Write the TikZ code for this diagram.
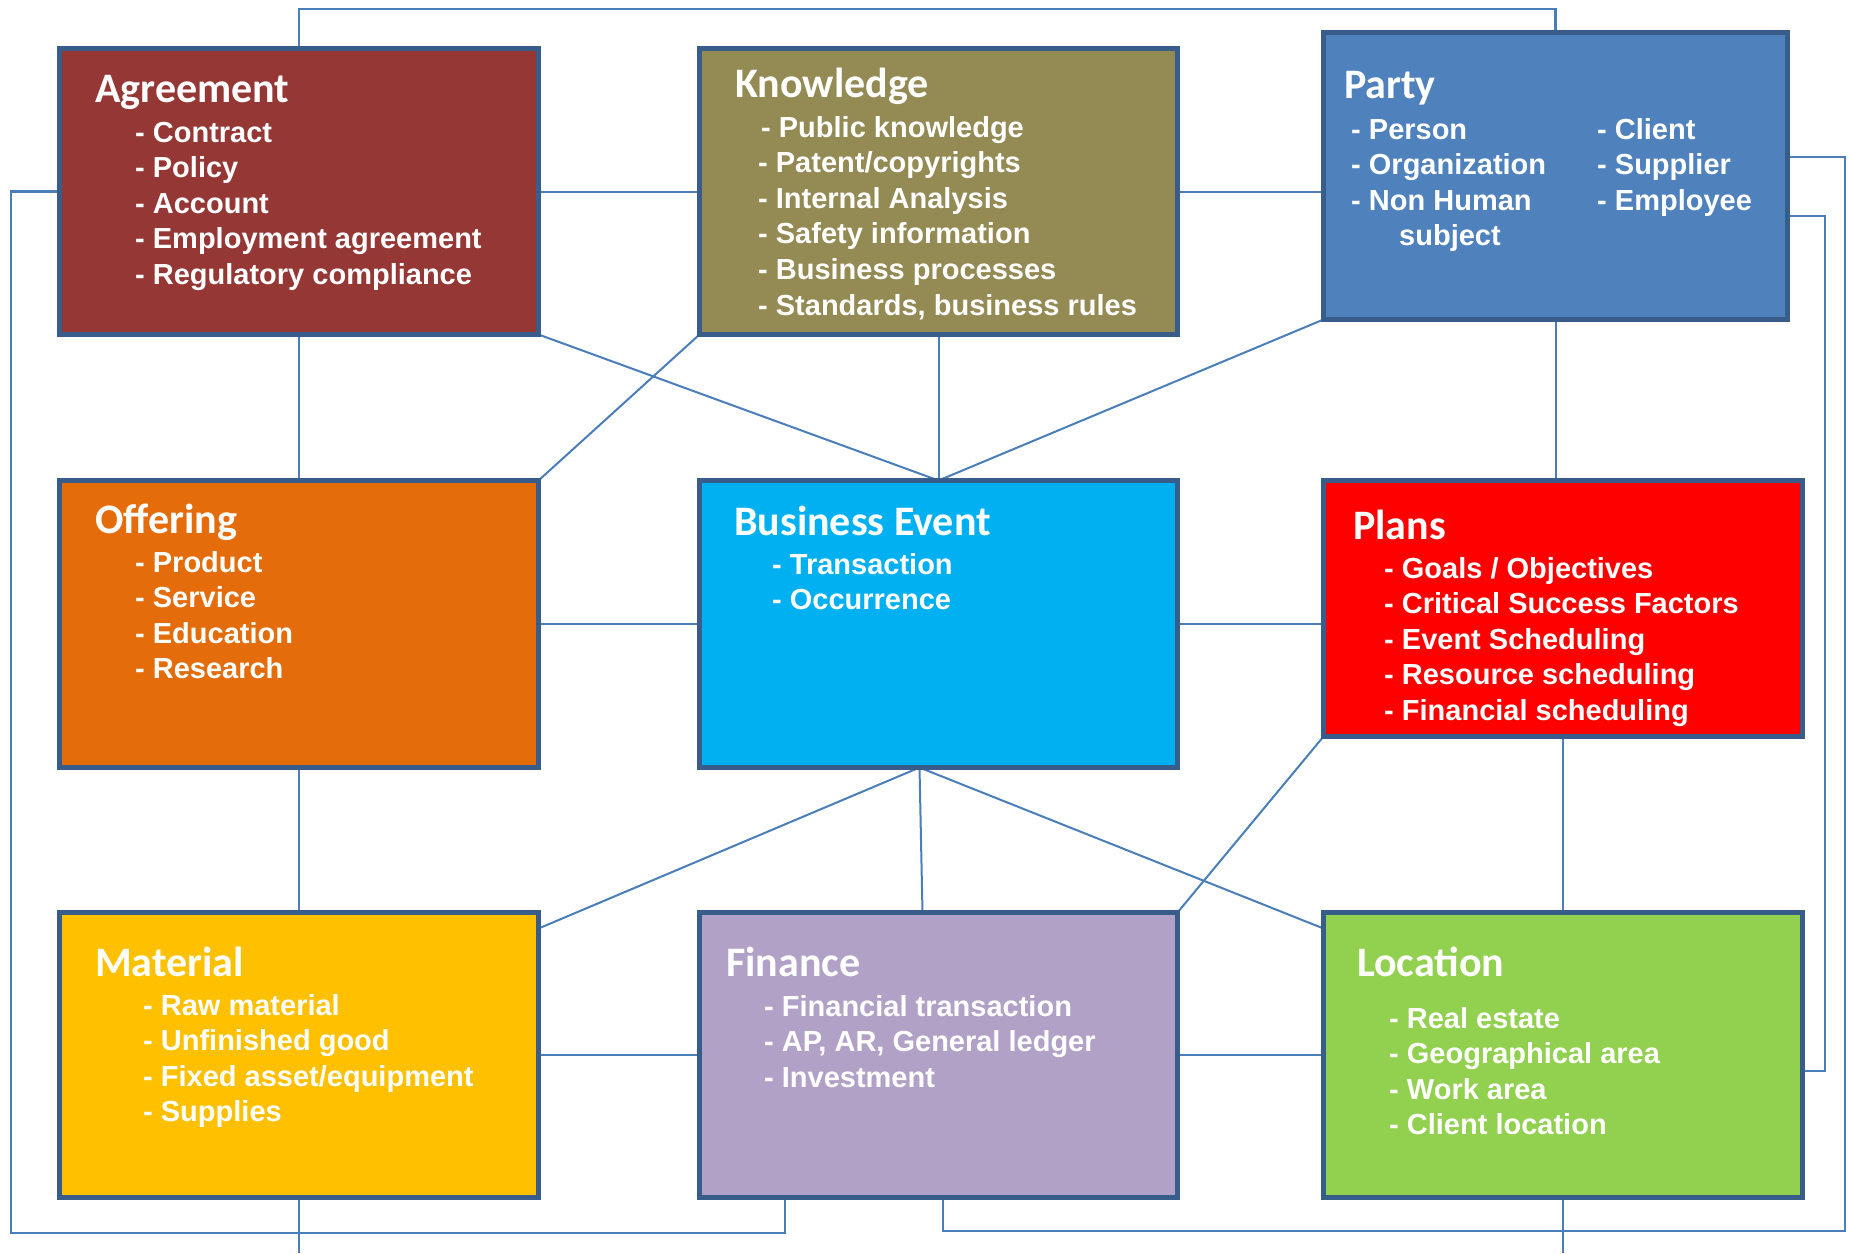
\documentclass[tikz,border=0pt]{standalone}
\usepackage{fontspec}
\newfontfamily\titlefont{Carlito}
\newfontfamily\itemfont{Liberation Sans}
\usetikzlibrary{calc}
\pgfdeclarelayer{bg}
\pgfsetlayers{bg,main}
\definecolor{bordc}{HTML}{385D8A}
\definecolor{connc}{HTML}{4A7EBB}
\definecolor{cagr}{HTML}{953735}
\definecolor{cknow}{HTML}{948A54}
\definecolor{cparty}{HTML}{4F81BD}
\definecolor{coff}{HTML}{E46C0A}
\definecolor{cbe}{HTML}{00B0F0}
\definecolor{cplans}{HTML}{FF0000}
\definecolor{cmat}{HTML}{FFC000}
\definecolor{cfin}{HTML}{B2A1C7}
\definecolor{cloc}{HTML}{92D050}
\newcommand{\itemlist}[1]{\begin{tabular}[t]{@{}l@{}}#1\end{tabular}}
\tikzset{
  box/.style={draw=bordc, line width=5pt, inner sep=0pt, outer sep=0pt, rectangle},
  ttl/.style={font=\titlefont\bfseries\fontsize{42}{50}\selectfont, text=white, anchor=base west, inner sep=0pt},
  itm/.style={font=\itemfont\bfseries\fontsize{29}{35.6}\selectfont, text=white, anchor=base west, inner sep=0pt},
  conn/.style={draw=connc, line width=2pt},
  rail/.style={draw=connc, line width=2.5pt},
}
\begin{document}
\begin{tikzpicture}[x=1pt,y=-1pt]
\useasboundingbox (0,0) rectangle (1849,1253);
% boxes
\node[box, fill=cagr,   minimum width=479pt, minimum height=286pt] (agr)   at (299,191.5) {};
\node[box, fill=cknow,  minimum width=478pt, minimum height=286pt] (know)  at (938.5,191.5) {};
\node[box, fill=cparty, minimum width=464pt, minimum height=287pt] (party) at (1555.5,176) {};
\node[box, fill=coff,   minimum width=479pt, minimum height=287pt] (off)   at (299,624) {};
\node[box, fill=cbe,    minimum width=478pt, minimum height=287pt] (be)    at (938.5,624) {};
\node[box, fill=cplans, minimum width=479pt, minimum height=256pt] (plans) at (1563,608.5) {};
\node[box, fill=cmat,   minimum width=479pt, minimum height=285pt] (mat)   at (299,1055) {};
\node[box, fill=cfin,   minimum width=478pt, minimum height=285pt] (fin)   at (938.5,1055) {};
\node[box, fill=cloc,   minimum width=479pt, minimum height=285pt] (loc)   at (1563,1055) {};
% texts
\node[ttl] (agrT) at (95,102) {Agreement};
\node[itm] (agrL) at (135,142) {\itemlist{- Contract\\- Policy\\- Account\\- Employment agreement\\- Regulatory compliance}};
\node[ttl] (knowT) at (735,97) {Knowledge};
\node[itm] (knowL) at (758,137) {\itemlist{\hspace*{3pt}- Public knowledge\\- Patent/copyrights\\- Internal Analysis\\- Safety information\\- Business processes\\- Standards, business rules}};
\node[ttl] (partyT) at (1344,98) {Party};
\node[itm] (partyL) at (1351,139) {\itemlist{- Person\\- Organization\\- Non Human\\\hspace*{48pt}subject}};
\node[itm] (partyR) at (1597,139) {\itemlist{- Client\\- Supplier\\- Employee}};
\node[ttl] (offT) at (95,533) {Offering};
\node[itm] (offL) at (135,572) {\itemlist{- Product\\- Service\\- Education\\- Research}};
\node[ttl] (beT) at (734,535) {Business Event};
\node[itm] (beL) at (772,574) {\itemlist{- Transaction\\- Occurrence}};
\node[ttl] (plansT) at (1353,539) {Plans};
\node[itm] (plansL) at (1384,578) {\itemlist{- Goals / Objectives\\- Critical Success Factors\\- Event Scheduling\\- Resource scheduling\\- Financial scheduling}};
\node[ttl] (matT) at (95,976) {Material};
\node[itm] (matL) at (143,1015) {\itemlist{- Raw material\\- Unfinished good\\- Fixed asset/equipment\\- Supplies}};
\node[ttl] (finT) at (726,976) {Finance};
\node[itm] (finL) at (764,1016) {\itemlist{- Financial transaction\\- AP, AR, General ledger\\- Investment}};
\node[ttl] (locT) at (1357,976) {Location};
\node[itm] (locL) at (1389,1028) {\itemlist{- Real estate\\- Geographical area\\- Work area\\- Client location}};
% connectors
\coordinate (toprail) at (0,9);
\coordinate (leftrail) at (11,1233);
\coordinate (rightrail) at (1845,1231);
\coordinate (innerrail) at (1825,1071);
\coordinate (matend) at (299,1253);
\coordinate (locend) at (1563,1253);
\begin{pgfonlayer}{bg}
\draw[conn] (agr.east) -- (know.west);
\draw[conn] (know.east) -- (know.east -| party.west);
\draw[conn] (agr.south) -- (off.north);
\draw[conn] (agr.south east) -- (be.north);
\draw[conn] (know.south west) -- (off.north east);
\draw[conn] (know.south) -- (be.north);
\draw[conn] (party.south west) -- (be.north);
\draw[conn] (party.south) -- (party.south |- plans.north);
\draw[conn] (off.east) -- (be.west);
\draw[conn] (be.east) -- (be.east -| plans.west);
\draw[conn] (off.south) -- (mat.north);
\draw[conn] ([xshift=-19pt]be.south) -- ([yshift=-16pt]mat.north east);
\draw[conn] ([xshift=-19pt]be.south) -- ([xshift=-16pt]fin.north);
\draw[conn] ([xshift=-19pt]be.south) -- ([yshift=-16pt]loc.north west);
\draw[conn] (plans.south west) -- (fin.north east);
\draw[conn] (plans.south) -- (loc.north);
\draw[conn] (mat.east) -- (fin.west);
\draw[conn] (fin.east) -- (loc.west);
\draw[rail] (agr.north) |- (toprail -| party.north) -- (party.north);
\draw[rail] (agr.west) -| (leftrail) -| ([xshift=-153.5pt]fin.south);
\draw[rail] ([yshift=19pt]party.east) -| (rightrail) -| ([xshift=4.5pt]fin.south);
\draw[rail] ([yshift=-40pt]party.east) -| (innerrail) -- ([yshift=-16pt]loc.east);
\draw[conn] (mat.south) -- (matend);
\draw[conn] (loc.south) -- (locend);
\end{pgfonlayer}
\end{tikzpicture}
\end{document}
